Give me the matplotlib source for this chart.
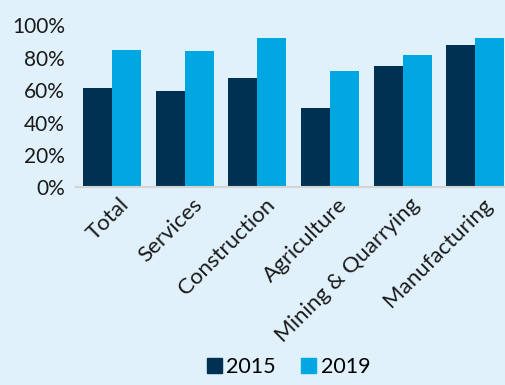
import matplotlib.pyplot as plt
import numpy as np
from matplotlib.patches import Patch
from matplotlib.ticker import PercentFormatter
import matplotlib.transforms as mtransforms

categories = ["Total", "Services", "Construction", "Agriculture",
              "Mining & Quarrying", "Manufacturing"]
share_2015 = [61, 59.6, 67.4, 49.1, 75, 87.7]
share_2019 = [84.8, 84, 92, 71.7, 81.3, 92]

bg = "#e0f1fb"
navy = "#003052"
cyan = "#00a7e0"

plt.rcParams["font.family"] = ["Lato", "DejaVu Sans"]

fig = plt.figure(figsize=(5.06, 3.85), dpi=100, facecolor=bg)
ax = fig.add_axes([0.150, 0.513, 0.861, 0.422], facecolor=bg)

x = np.arange(len(categories))
w = 0.4
ax.bar(x - w / 2, share_2015, w, color=navy, zorder=2)
ax.bar(x + w / 2, share_2019, w, color=cyan, zorder=2)

ax.set_xlim(-0.5, len(categories) - 0.5)
ax.set_ylim(0, 100)
ax.set_yticks(np.arange(0, 101, 20))
ax.yaxis.set_major_formatter(PercentFormatter(decimals=0))
ax.tick_params(axis="y", length=0, labelsize=15, pad=8, colors="#1a1a1a")

ax.set_xticks(x)
ax.set_xticklabels(categories, rotation=45, ha="right", rotation_mode="anchor",
                   fontsize=16, color="#1a1a1a")
ax.tick_params(axis="x", length=0, pad=5)
shift = mtransforms.ScaledTranslation(0.07, 0, fig.dpi_scale_trans)
for lbl in ax.get_xticklabels():
    lbl.set_transform(lbl.get_transform() + shift)

for side in ("top", "right", "left"):
    ax.spines[side].set_visible(False)
ax.spines["bottom"].set_color("#d4d4d4")
ax.spines["bottom"].set_linewidth(1.5)

handles = [Patch(color=navy, label="2015"), Patch(color=cyan, label="2019")]
fig.legend(handles=handles, loc="lower center", bbox_to_anchor=(0.57, -0.03),
           ncol=2, frameon=False, fontsize=15.5, handlelength=0.7,
           handleheight=0.7, handletextpad=0.2, columnspacing=1.2)

fig.savefig("out.png", dpi=100, facecolor=bg)
